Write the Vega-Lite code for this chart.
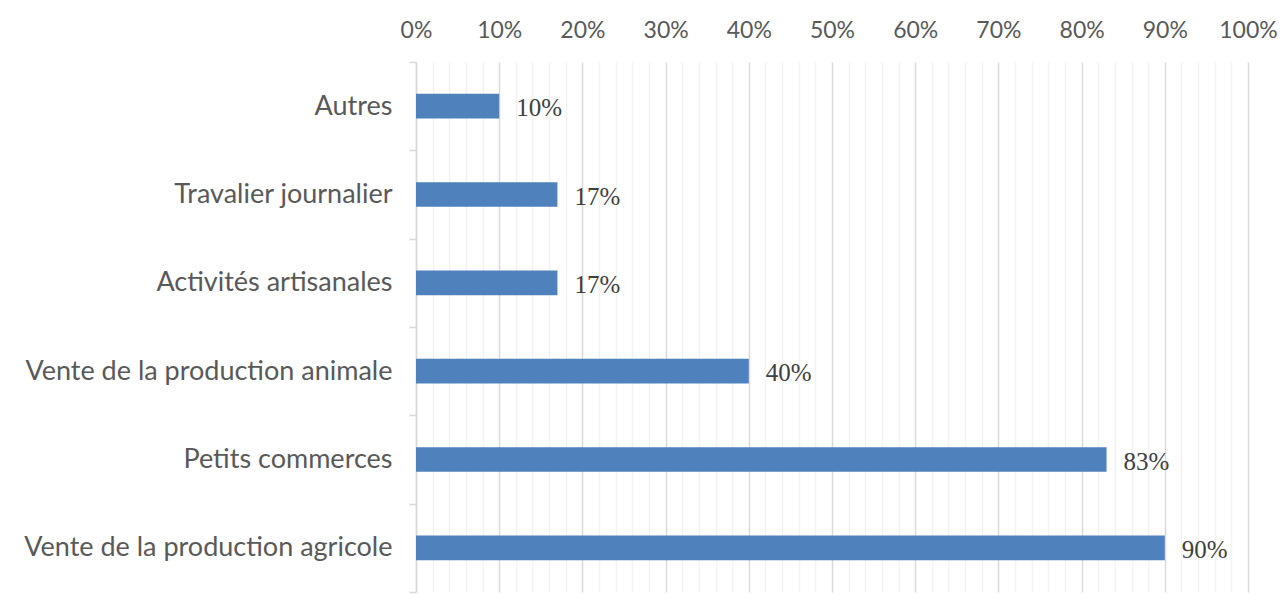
{
  "$schema": "https://vega.github.io/schema/vega-lite/v6.json",
  "autosize": {"type": "none"},
  "width": 832,
  "height": 530,
  "padding": {"left": 416, "top": 62, "right": 33, "bottom": 3},
  "background": "white",
  "config": {"view": {"stroke": null}},
  "data": {"values": [
    {"categorie": "Autres", "part": 0.10},
    {"categorie": "Travalier journalier", "part": 0.17},
    {"categorie": "Activités artisanales", "part": 0.17},
    {"categorie": "Vente de la production animale", "part": 0.40},
    {"categorie": "Petits commerces", "part": 0.83},
    {"categorie": "Vente de la production agricole", "part": 0.90}
  ]},
  "encoding": {
    "y": {
      "field": "categorie", "type": "nominal", "title": null,
      "sort": ["Autres", "Travalier journalier", "Activités artisanales", "Vente de la production animale", "Petits commerces", "Vente de la production agricole"],
      "scale": {"paddingInner": 0, "paddingOuter": 0},
      "axis": {
        "labelFont": "Lato", "labelFontSize": 27, "labelColor": "#595959",
        "labelPadding": 17, "labelLimit": 400,
        "domainColor": "#d9d9d9", "domainWidth": 1.5,
        "tickColor": "#d9d9d9", "tickWidth": 1.5, "tickSize": 7, "tickBand": "extent",
        "grid": false
      }
    },
    "x": {
      "field": "part", "type": "quantitative", "title": null,
      "scale": {"domain": [0, 1], "nice": false},
      "axis": {
        "orient": "top",
        "values": [0,0.02,0.04,0.06,0.08,0.1,0.12,0.14,0.16,0.18,0.2,0.22,0.24,0.26,0.28,0.3,0.32,0.34,0.36,0.38,0.4,0.42,0.44,0.46,0.48,0.5,0.52,0.54,0.56,0.58,0.6,0.62,0.64,0.66,0.68,0.7,0.72,0.74,0.76,0.78,0.8,0.82,0.84,0.86,0.88,0.9,0.92,0.94,0.96,0.98,1],
        "labelExpr": "round(datum.value*100) % 10 === 0 ? round(datum.value*100) + '%' : ''",
        "labelFont": "Lato", "labelFontSize": 23, "labelColor": "#595959",
        "labelPadding": 20, "labelFlush": false, "labelOverlap": false,
        "domain": false, "ticks": false,
        "grid": true,
        "gridColor": {"condition": {"test": "round(datum.value*100) % 10 === 0", "value": "#d9d9d9"}, "value": "#f2f2f2"},
        "gridWidth": 1.5
      }
    }
  },
  "layer": [
    {"mark": {"type": "bar", "color": "#4f81bd", "height": {"band": 0.28}}},
    {
      "mark": {"type": "text", "align": "left", "baseline": "middle", "dx": 17, "dy": 2, "font": "Liberation Serif", "fontSize": 25, "color": "#404040"},
      "encoding": {"text": {"field": "part", "type": "quantitative", "format": ".0%"}}
    }
  ]
}
